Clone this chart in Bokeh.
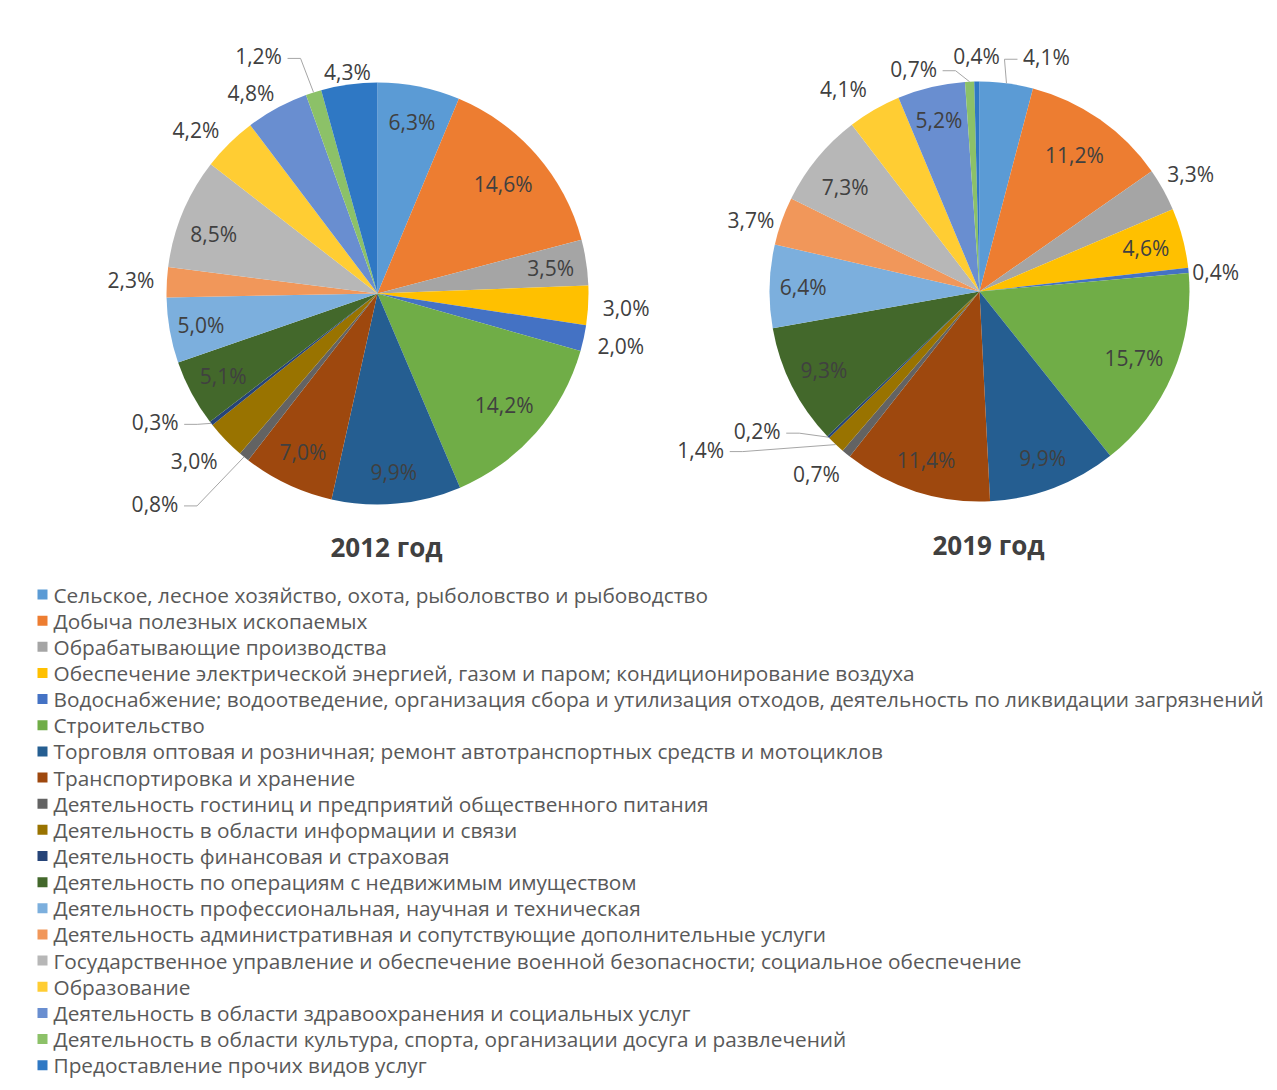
import numpy as np
from bokeh.plotting import figure
from bokeh.models import Range1d
from bokeh.embed import file_html
from bokeh.resources import INLINE
from bokeh.core.properties import value

# ---------------- data ----------------
categories = [
    "Сельское, лесное хозяйство, охота, рыболовство и рыбоводство",
    "Добыча полезных ископаемых",
    "Обрабатывающие производства",
    "Обеспечение электрической энергией, газом и паром; кондиционирование воздуха",
    "Водоснабжение; водоотведение, организация сбора и утилизация отходов, деятельность по ликвидации загрязнений",
    "Строительство",
    "Торговля оптовая и розничная; ремонт автотранспортных средств и мотоциклов",
    "Транспортировка и хранение",
    "Деятельность гостиниц и предприятий общественного питания",
    "Деятельность в области информации и связи",
    "Деятельность финансовая и страховая",
    "Деятельность по операциям с недвижимым имуществом",
    "Деятельность профессиональная, научная и техническая",
    "Деятельность административная и сопутствующие дополнительные услуги",
    "Государственное управление и обеспечение военной безопасности; социальное обеспечение",
    "Образование",
    "Деятельность в области здравоохранения и социальных услуг",
    "Деятельность в области культура, спорта, организации досуга и развлечений",
    "Предоставление прочих видов услуг",
]
values_2012 = [6.3, 14.6, 3.5, 3.0, 2.0, 14.2, 9.9, 7.0, 0.8, 3.0, 0.3, 5.1, 5.0, 2.3, 8.5, 4.2, 4.8, 1.2, 4.3]
values_2019 = [4.1, 11.2, 3.3, 4.6, 0.4, 15.7, 9.9, 11.4, 0.7, 1.4, 0.2, 9.3, 6.4, 3.7, 7.3, 4.1, 5.2, 0.7, 0.4]
titles = ["2012 год", "2019 год"]

# ---------------- styles / layout ----------------
colors = ["#5B9BD5", "#ED7D31", "#A5A5A5", "#FFC000", "#4472C4", "#70AD47", "#255E91",
          "#9E480E", "#636363", "#997300", "#264478", "#43682B", "#7CAFDD", "#F1975A",
          "#B7B7B7", "#FFCD33", "#698ED0", "#8CC168", "#2F78C4"]

W, H = 1269, 1082
# label radial factors (None = label with leader line)
label_r_2012 = [0.83, 0.79, 0.83, 1.18, 1.18, 0.80, 0.85, 0.83, None, 1.18, None,
                0.83, 0.85, 1.17, 0.82, 1.15, 1.12, None, 1.06]
leader_2012 = {8: (-89, -47), 10: (-56, 1), 17: (-55, 36)}
nudge_2012 = {15: (-11, 9), 16: (-14, 7), 14: (-4, 7), 9: (-4, -5)}
label_r_2019 = [None, 0.79, 1.15, 0.82, 1.13, 0.80, 0.85, 0.84, 1.17, None, None,
                0.83, 0.84, 1.14, 0.81, 1.16, 0.84, None, 1.12]
leader_2019 = {0: (40, 26), 9: (-135, -5), 10: (-71, 6), 17: (-56, 13)}
nudge_2019 = {15: (-14, 8), 13: (-3, 9), 8: (-7, -7), 4: (0, 4), 14: (-3, 4)}

# positions are given in pixels from the top-left corner; y is flipped below
def Y(px):
    return H - px

pies = [
    dict(vals=values_2012, cx=377, cy=Y(293), r=211, lr=label_r_2012, lead=leader_2012,
         nudge=nudge_2012, title=titles[0], tx=386, ty=Y(546)),
    dict(vals=values_2019, cx=979, cy=Y(291), r=210, lr=label_r_2019, lead=leader_2019,
         nudge=nudge_2019, title=titles[1], tx=988, ty=Y(544)),
]

FONT = "Open Sans"
LABEL_COLOR = "#404040"

p = figure(width=W, height=H, x_range=Range1d(0, W), y_range=Range1d(0, H),
           output_backend="svg", toolbar_location=None, min_border=0)
p.axis.visible = False
p.grid.visible = False
p.outline_line_color = None
p.background_fill_color = "white"
p.border_fill_color = "white"

def fmt(v):
    return f"{v:.1f}".replace(".", ",") + "%"

for pie in pies:
    vals = np.array(pie["vals"], dtype=float)
    frac = vals / vals.sum()
    cum = np.concatenate([[0], np.cumsum(frac)])
    start = np.pi / 2 - 2 * np.pi * cum[:-1]
    end = np.pi / 2 - 2 * np.pi * cum[1:]
    mid = (start + end) / 2
    cx, cy, r = pie["cx"], pie["cy"], pie["r"]
    p.wedge(x=cx, y=cy, radius=r, radius_units="screen", start_angle=start, end_angle=end,
            direction="clock", fill_color=colors, line_color=None)

    lx, ly, txt = [], [], []
    lines_x, lines_y = [], []
    for i, v in enumerate(vals):
        if pie["lr"][i] is not None:
            f = pie["lr"][i]
            nx, ny = pie["nudge"].get(i, (0, 0))
            lx.append(cx + f * r * np.cos(mid[i]) + nx)
            ly.append(cy + f * r * np.sin(mid[i]) - ny)
        else:
            ex = cx + r * np.cos(mid[i])
            ey = cy + r * np.sin(mid[i])
            ox, oy = pie["lead"][i]
            tx_, ty_ = ex + ox, ey + oy
            lx.append(tx_)
            ly.append(ty_)
            sgn = 1 if ox < 0 else -1
            side = tx_ + sgn * 29
            elbow = side + sgn * 13
            yy = ty_ - 2
            lines_x.append([side, elbow, ex])
            lines_y.append([yy, yy, ey])
        txt.append(fmt(v))
    p.multi_line(xs=lines_x, ys=lines_y, line_color="#A6A6A6", line_width=1)
    p.text(x=lx, y=ly, text=txt, text_font=value(FONT), text_font_size="21px",
           text_color=LABEL_COLOR, text_align="center", text_baseline="middle")
    p.text(x=[pie["tx"]], y=[pie["ty"]], text=[pie["title"]], text_font=value(FONT),
           text_font_size="26px", text_font_style="bold", text_color=LABEL_COLOR,
           text_align="center", text_baseline="middle")

# legend
leg_y0 = 594
leg_dy = 26.15
ys = [Y(leg_y0 + i * leg_dy) for i in range(len(categories))]
p.scatter(x=[42] * len(categories), y=ys, marker="square", size=10,
          fill_color=colors, line_color=None)
p.text(x=[53] * len(categories), y=ys, text=categories, text_font=value(FONT),
       text_font_size="20.8px", text_color="#595959", text_align="left", text_baseline="middle")

open("out.html", "w").write(file_html(p, INLINE))
